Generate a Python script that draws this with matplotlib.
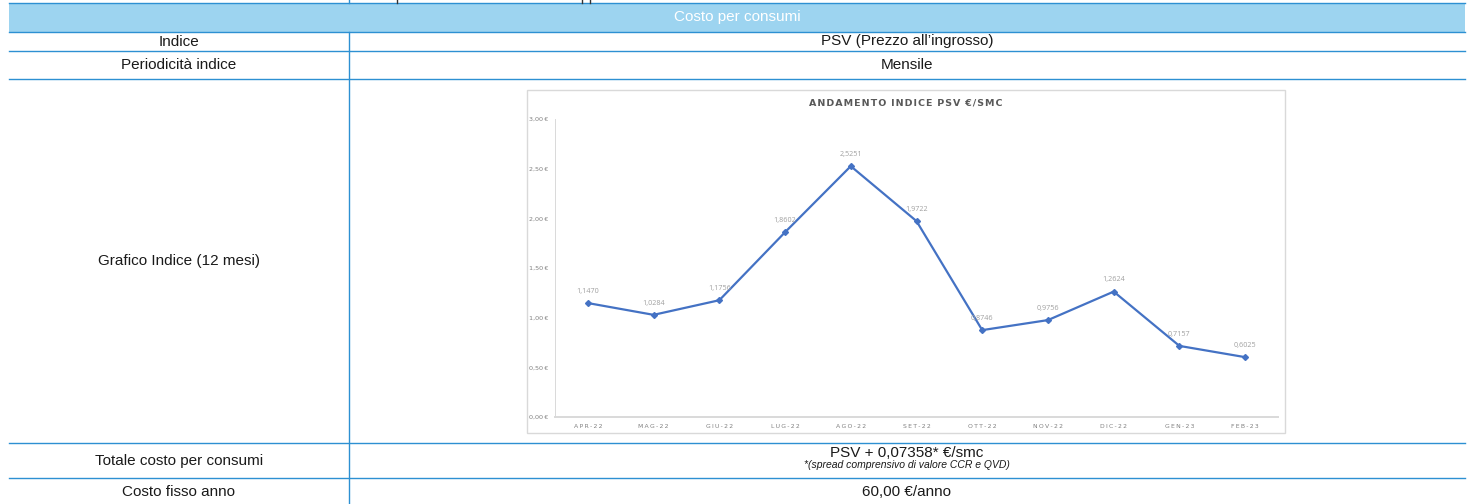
import matplotlib
matplotlib.use("Agg")
import matplotlib.pyplot as plt
from matplotlib.patches import Rectangle

# --- data ---
mesi = ["APR-22", "MAG-22", "GIU-22", "LUG-22", "AGO-22", "SET-22",
        "OTT-22", "NOV-22", "DIC-22", "GEN-23", "FEB-23"]
psv = [1.1470, 1.0284, 1.1756, 1.8602, 2.5251, 1.9722,
       0.8746, 0.9756, 1.2624, 0.7157, 0.6025]
y_ticks = [0.0, 0.5, 1.0, 1.5, 2.0, 2.5, 3.0]

header = "Costo per consumi"
row_labels = ["Indice", "Periodicità indice", "Grafico Indice (12 mesi)",
              "Totale costo per consumi", "Costo fisso anno"]
row_values = ["PSV (Prezzo all\u2019ingrosso)", "Mensile", None,
              "PSV + 0,07358* \u20ac/smc", "60,00 \u20ac/anno"]
nota = "*(spread comprensivo di valore CCR e QVD)"
chart_title = "ANDAMENTO INDICE PSV \u20ac/SMC"

W, H = 1472, 504
BLUE = "#2D90D2"
FILL = "#9DD4F0"
TXT = "Liberation Sans"

fig = plt.figure(figsize=(W / 100, H / 100), dpi=100)
tab = fig.add_axes([0, 0, 1, 1])
tab.set_xlim(0, W)
tab.set_ylim(H, 0)
tab.axis("off")

# table geometry (pixels)
x0, x1, xdiv = 9, 1465, 349
row_edges = [32, 51, 79, 443, 478, 520]

# header band
tab.add_patch(Rectangle((x0, 3), x1 - x0, 29, facecolor=FILL, edgecolor="none"))
tab.plot([x0, x1], [3, 3], color=BLUE, lw=1.0)
tab.text((x0 + x1) / 2, 17.5, header, ha="center", va="center",
         color="white", fontsize=11, family=TXT)

# bits of cut-off content above the table
tab.plot([xdiv, xdiv], [0, 3], color=BLUE, lw=1.0)
for xx in [397, 582, 590]:
    tab.plot([xx, xx], [0, 3], color="#333333", lw=1.0)

for y in row_edges[:-1]:
    tab.plot([x0, x1], [y, y], color=BLUE, lw=1.0)
tab.plot([xdiv, xdiv], [32, H], color=BLUE, lw=1.0)

xl = (x0 + xdiv) / 2
xr = (xdiv + x1) / 2
for i, lab in enumerate(row_labels):
    yc = (row_edges[i] + row_edges[i + 1]) / 2
    if i == 4:
        yc = 492
    tab.text(xl, yc, lab, ha="center", va="center", fontsize=11,
             family=TXT, color="#1a1a1a")
    val = row_values[i]
    if val is None:
        continue
    if i == 3:
        tab.text(xr, 453, val, ha="center", va="center", fontsize=11,
                 family=TXT, color="#1a1a1a")
        tab.text(xr, 465, nota, ha="center", va="center", fontsize=7.5,
                 family=TXT, style="italic", color="#1a1a1a")
    else:
        tab.text(xr, yc, val, ha="center", va="center", fontsize=11,
                 family=TXT, color="#1a1a1a")

# chart frame
tab.add_patch(Rectangle((527, 90), 1285 - 527, 343, facecolor="white",
                        edgecolor="#D9D9D9", lw=1.0))
spaced_title = "\u200a".join(chart_title).replace("\u200a \u200a", "\u2002")
tab.text(906, 103, spaced_title, ha="center", va="center", fontsize=6.8,
         family="DejaVu Sans", fontweight="bold", color="#595959")

# chart
ax = fig.add_axes([555 / W, (H - 417) / H, (1278 - 555) / W, (417 - 119) / H])
ax.patch.set_alpha(0)
xs = list(range(len(mesi)))
ax.plot(xs, psv, color="#4472C4", lw=1.6, marker="D", markersize=3)
for x, v in zip(xs, psv):
    ax.annotate(("%.4f" % v).replace(".", ","), (x, v), xytext=(0, 6),
                textcoords="offset points", ha="center", va="bottom",
                fontsize=5.2, color="#A0A0A0", family="Open Sans")

ax.set_xlim(-0.5, len(mesi) - 0.5)
ax.set_ylim(0, 3)
ax.set_yticks(y_ticks)
ax.set_yticklabels([("%.2f\u2009\u20ac" % t).replace(".", ",") for t in y_ticks],
                   fontsize=4.6, color="#808080", family="DejaVu Sans")
ax.set_xticks(xs)
ax.set_xticklabels(["\u2009".join(m) for m in mesi], fontsize=4.4,
                   color="#808080", family="DejaVu Sans")
ax.tick_params(length=0, pad=5)
for s in ["top", "right"]:
    ax.spines[s].set_visible(False)
ax.spines["left"].set_color("#D9D9D9")
ax.spines["left"].set_linewidth(0.7)
ax.spines["bottom"].set_color("#D9D9D9")
ax.spines["bottom"].set_linewidth(1.4)

fig.savefig("out.png", dpi=100)
